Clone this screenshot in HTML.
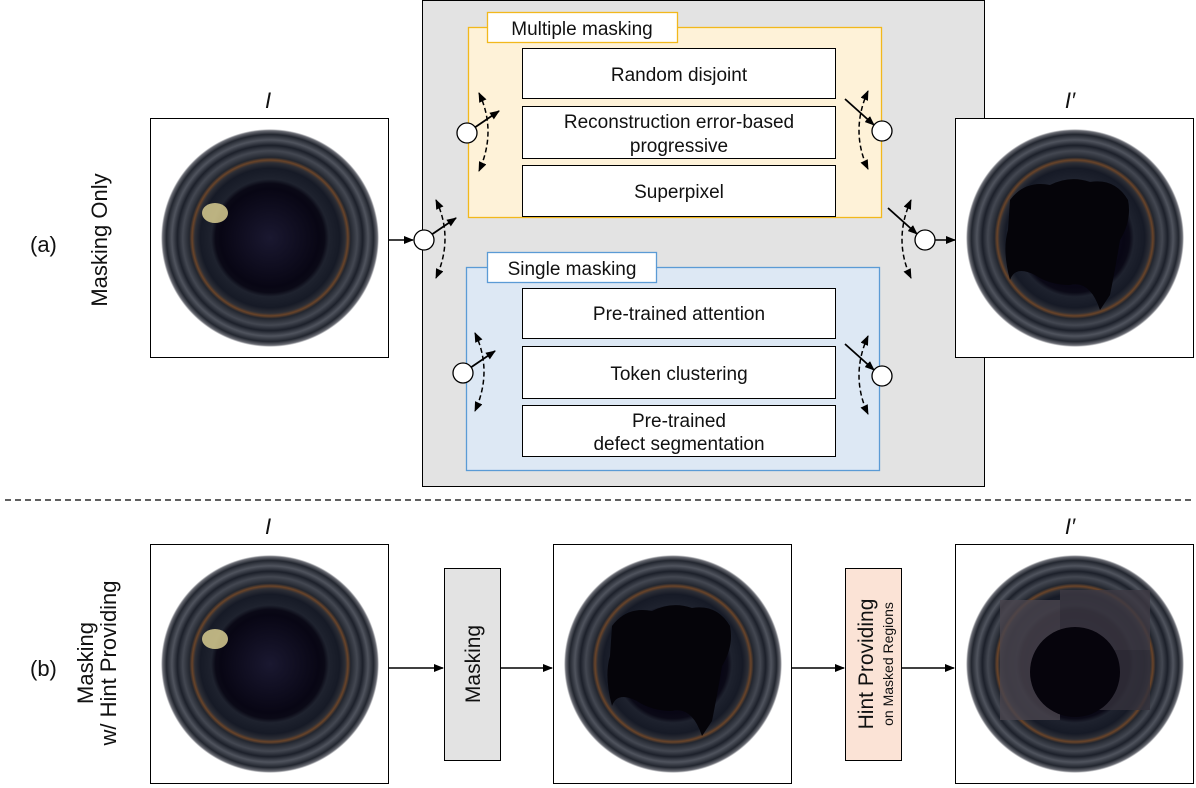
<!DOCTYPE html>
<html><head><meta charset="utf-8"><style>
html,body{margin:0;padding:0;background:#fff}
svg{display:block}
text{font-family:"Liberation Sans",sans-serif;fill:#111}
</style></head><body>
<svg width="1196" height="788" viewBox="0 0 1196 788" xmlns="http://www.w3.org/2000/svg">
<defs>
<radialGradient id="pipe" cx="0.5" cy="0.5" r="0.5">
<stop offset="0" stop-color="#1a1830"/>
<stop offset="0.45" stop-color="#080614"/>
<stop offset="0.5" stop-color="#0a0916"/>
<stop offset="0.54" stop-color="#1e222e"/>
<stop offset="0.64" stop-color="#161a26"/>
<stop offset="0.69" stop-color="#2c2e36"/>
<stop offset="0.715" stop-color="#6a4428"/>
<stop offset="0.74" stop-color="#22262f"/>
<stop offset="0.8" stop-color="#444852"/>
<stop offset="0.85" stop-color="#1c202a"/>
<stop offset="0.9" stop-color="#50545e"/>
<stop offset="0.95" stop-color="#22262f"/>
<stop offset="0.985" stop-color="#6a6c74"/>
<stop offset="1" stop-color="#ffffff"/>
</radialGradient>
<marker id="ah" markerWidth="10" markerHeight="8" refX="9" refY="4" orient="auto" markerUnits="userSpaceOnUse"><path d="M0,0 L10,4 L0,8 z" fill="#000"/></marker>
<marker id="ahs" markerWidth="10" markerHeight="8" refX="9" refY="4" orient="auto-start-reverse" markerUnits="userSpaceOnUse"><path d="M0,0 L10,4 L0,8 z" fill="#000"/></marker>
<g id="pipeimg">
<rect x="0.5" y="0.5" width="238" height="239" fill="#fff" stroke="#000" stroke-width="1"/>
<circle cx="120" cy="120" r="109" fill="url(#pipe)"/>
</g>
<g id="swL">
<line x1="7" y1="-5" x2="32" y2="-22" stroke="#000" stroke-width="1.8" marker-end="url(#ah)"/>
<path d="M12,-40 Q30,-2 12,38" fill="none" stroke="#000" stroke-width="1.5" stroke-dasharray="5,3" marker-start="url(#ahs)" marker-end="url(#ah)"/>
<circle cx="0" cy="0" r="10" fill="#fff" stroke="#000" stroke-width="1.3"/>
</g>
<g id="swR">
<line x1="-37" y1="-32" x2="-8" y2="-6" stroke="#000" stroke-width="1.8" marker-end="url(#ah)"/>
<path d="M-14,-40 Q-32,0 -14,38" fill="none" stroke="#000" stroke-width="1.5" stroke-dasharray="5,3" marker-start="url(#ahs)" marker-end="url(#ah)"/>
<circle cx="0" cy="0" r="10" fill="#fff" stroke="#000" stroke-width="1.3"/>
</g>
<path id="blob" d="M-60,-40 Q-45,-60 -20,-55 Q0,-65 20,-58 Q45,-62 58,-40 Q62,-20 50,0 Q45,30 40,55 L30,70 Q20,40 0,45 Q-20,45 -35,35 Q-55,25 -60,40 Q-68,10 -62,-10 Z" fill="#050409"/>
</defs>

<!-- (a) -->
<text x="30" y="252" font-size="22">(a)</text>
<text transform="translate(107,240) rotate(-90)" font-size="22" text-anchor="middle">Masking Only</text>
<text x="268" y="108" font-size="22" font-style="italic" font-family="Liberation Serif" text-anchor="middle">I</text>
<use href="#pipeimg" x="150" y="118"/>
<ellipse cx="215" cy="213" rx="13" ry="10" fill="#d8cc90" opacity="0.85"/>

<rect x="422.5" y="0.5" width="562" height="486" fill="#e3e3e3" stroke="#000" stroke-width="1"/>
<rect x="468.5" y="27.5" width="413" height="190" fill="#fef2d8" stroke="#f2b81c" stroke-width="1.3"/>
<rect x="487.5" y="12.5" width="190" height="30" fill="#fff" stroke="#f2b81c" stroke-width="1.3"/>
<text x="582" y="35" font-size="19" text-anchor="middle">Multiple masking</text>
<rect x="522.5" y="48.5" width="313" height="50" fill="#fff" stroke="#000"/>
<text x="679" y="81" font-size="19" text-anchor="middle">Random disjoint</text>
<rect x="522.5" y="106.5" width="313" height="52" fill="#fff" stroke="#000"/>
<text x="679" y="128" font-size="19" text-anchor="middle">Reconstruction error-based</text>
<text x="679" y="152" font-size="19" text-anchor="middle">progressive</text>
<rect x="522.5" y="165.5" width="313" height="51" fill="#fff" stroke="#000"/>
<text x="679" y="198" font-size="19" text-anchor="middle">Superpixel</text>

<rect x="466.5" y="267.5" width="413" height="203" fill="#dde8f4" stroke="#5b9bd5" stroke-width="1.3"/>
<rect x="487.5" y="252.5" width="169" height="30" fill="#fff" stroke="#5b9bd5" stroke-width="1.3"/>
<text x="572" y="275" font-size="19" text-anchor="middle">Single masking</text>
<rect x="522.5" y="288.5" width="313" height="50" fill="#fff" stroke="#000"/>
<text x="679" y="320" font-size="19" text-anchor="middle">Pre-trained attention</text>
<rect x="522.5" y="346.5" width="313" height="52" fill="#fff" stroke="#000"/>
<text x="679" y="380" font-size="19" text-anchor="middle">Token clustering</text>
<rect x="522.5" y="405.5" width="313" height="51" fill="#fff" stroke="#000"/>
<text x="679" y="427" font-size="19" text-anchor="middle">Pre-trained</text>
<text x="679" y="450" font-size="19" text-anchor="middle">defect segmentation</text>

<use href="#swL" x="467" y="133"/>
<use href="#swR" x="882" y="131"/>
<use href="#swL" x="463" y="373"/>
<use href="#swR" x="882" y="376"/>

<line x1="388" y1="240" x2="413" y2="240" stroke="#000" stroke-width="1.5" marker-end="url(#ah)"/>
<use href="#swL" x="424" y="240"/>
<use href="#swR" x="925" y="240"/>
<line x1="935" y1="240" x2="955" y2="240" stroke="#000" stroke-width="1.5" marker-end="url(#ah)"/>

<text x="1070" y="108" font-size="22" font-style="italic" font-family="Liberation Serif" text-anchor="middle">I′</text>
<use href="#pipeimg" x="955" y="118"/>
<use href="#blob" x="1070" y="240"/>

<line x1="5" y1="500" x2="1195" y2="500" stroke="#000" stroke-width="1.2" stroke-dasharray="6,4"/>

<!-- (b) -->
<text x="30" y="676" font-size="22">(b)</text>
<text transform="translate(93,663) rotate(-90)" font-size="22" text-anchor="middle">Masking</text>
<text transform="translate(116,663) rotate(-90)" font-size="22" text-anchor="middle">w/ Hint Providing</text>
<text x="268" y="534" font-size="22" font-style="italic" font-family="Liberation Serif" text-anchor="middle">I</text>
<use href="#pipeimg" x="150" y="544"/>
<ellipse cx="215" cy="639" rx="13" ry="10" fill="#d8cc90" opacity="0.85"/>
<line x1="388" y1="668" x2="443" y2="668" stroke="#000" stroke-width="1.5" marker-end="url(#ah)"/>
<rect x="444.5" y="568.5" width="56" height="192" fill="#e3e3e3" stroke="#000"/>
<text transform="translate(480,664) rotate(-90)" font-size="21" text-anchor="middle">Masking</text>
<line x1="500" y1="668" x2="552" y2="668" stroke="#000" stroke-width="1.5" marker-end="url(#ah)"/>
<use href="#pipeimg" x="553" y="544"/>
<use href="#blob" x="672" y="666"/>
<line x1="791" y1="668" x2="844" y2="668" stroke="#000" stroke-width="1.5" marker-end="url(#ah)"/>
<rect x="845.5" y="568.5" width="56" height="192" fill="#fbe3d6" stroke="#000"/>
<text transform="translate(873,664) rotate(-90)" font-size="21" text-anchor="middle">Hint Providing</text>
<text transform="translate(893,664) rotate(-90)" font-size="14" text-anchor="middle">on Masked Regions</text>
<line x1="901" y1="668" x2="954" y2="668" stroke="#000" stroke-width="1.5" marker-end="url(#ah)"/>
<text x="1070" y="534" font-size="22" font-style="italic" font-family="Liberation Serif" text-anchor="middle">I′</text>
<use href="#pipeimg" x="955" y="544"/>
<g opacity="0.8">
<rect x="1000" y="600" width="60" height="120" fill="#4a454e"/>
<rect x="1060" y="590" width="90" height="60" fill="#3e3a44"/>
<rect x="1090" y="650" width="60" height="60" fill="#35323c"/>
</g>
<circle cx="1075" cy="672" r="45" fill="#06040c"/>
</svg>
</body></html>
